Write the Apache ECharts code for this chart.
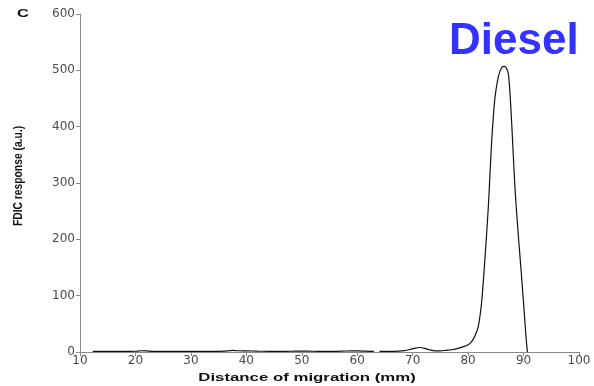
<!DOCTYPE html>
<html>
<head>
<meta charset="utf-8">
<script src="https://cdn.jsdelivr.net/npm/echarts@6/dist/echarts.min.js"></script>
<style>
  html, body { margin: 0; padding: 0; background: #fff; }
  #chart { width: 594px; height: 386px; }
</style>
</head>
<body>
<div id="chart"></div>
<script>
// FDIC trace of diesel: distance of migration (mm) vs detector response (a.u.)
var distance = [
  12.3, 14, 16, 18, 20, 21, 22, 23, 25, 28, 31, 34, 36, 37.5, 38.5, 40, 42, 44, 46, 48,
  50, 52, 54, 56, 58, 60, 61.5, 63.0, 63.5, 64.0, 66, 67.5, 68.5, 69.5, 70.5, 71.3, 72.2,
  73, 74, 75, 76, 77, 78, 79, 80, 80.6, 81.2, 81.85, 82.45, 83.05, 83.65, 83.95, 84.26,
  84.55, 84.86, 85.46, 86.06, 86.6, 87.0, 87.26, 87.56, 87.86, 88.16, 88.46, 88.77,
  89.07, 89.37, 89.67, 89.96, 90.26, 90.5, 90.7
];
var response = [
  1.2, 1, 1.2, 1, 1.3, 2.2, 2, 1.2, 1, 1, 1.2, 1, 1.4, 3, 2.2, 2, 1.5, 1.2, 1, 1.3,
  1.5, 1.3, 1.2, 1.2, 1.8, 2, 1.5, 1, null, 1, 1, 1.5, 2.5, 4.5, 7, 8, 6.5,
  4, 2, 2, 3, 4, 6, 9, 13, 18, 28, 46, 90, 168, 258, 317, 376,
  418, 453, 489, 505, 507, 502, 494, 459, 406, 347, 290, 245,
  205, 168, 130, 92, 51, 20, 0
];
var xTicks = { min: 10, max: 100, step: 10 };
var yTicks = { min: 0, max: 600, step: 100 };
var xTitle = 'Distance of migration (mm)';
var yTitle = 'FDIC response (a.u.)';
var panelLetter = 'C';
var sampleName = 'Diesel';

var points = distance.map(function (d, i) {
  return [d, response[i] === null ? null : response[i]];
});

var axisGrey = '#8a8a8a';
var labelStyle = { color: '#4a4a4a', fontFamily: 'DejaVu Sans', fontSize: 12 };

var chart = echarts.init(document.getElementById('chart'), null, { renderer: 'canvas' });
chart.setOption({
  animation: false,
  backgroundColor: '#ffffff',
  grid: { left: 80, right: 15, top: 14, bottom: 34, containLabel: false },
  xAxis: {
    type: 'value',
    min: xTicks.min, max: xTicks.max, interval: xTicks.step,
    axisLine: { show: true, lineStyle: { color: axisGrey, width: 1 } },
    axisTick: { show: true, length: 4, lineStyle: { color: axisGrey } },
    axisLabel: Object.assign({ margin: 3 }, labelStyle),
    splitLine: { show: false }
  },
  yAxis: {
    type: 'value',
    min: yTicks.min, max: yTicks.max, interval: yTicks.step,
    axisLine: { show: true, lineStyle: { color: axisGrey, width: 1 } },
    axisTick: { show: true, length: 4, lineStyle: { color: axisGrey } },
    axisLabel: Object.assign({ margin: 5 }, labelStyle),
    splitLine: { show: false }
  },
  series: [{
    type: 'line',
    data: points,
    showSymbol: false,
    smooth: 0.25,
    connectNulls: false,
    lineStyle: { color: '#111111', width: 1.2 }
  }],
  graphic: [
    {
      type: 'text', x: 307, y: 378, scaleX: 1.6,
      style: {
        text: xTitle, font: 'bold 10.5px "Liberation Sans", Arial, sans-serif',
        fill: '#111', textAlign: 'center', textVerticalAlign: 'middle'
      }
    },
    {
      type: 'text', x: 18, y: 176, rotation: Math.PI / 2, scaleY: 1.3,
      style: {
        text: yTitle, font: 'bold 10.3px "Liberation Sans", Arial, sans-serif',
        fill: '#111', textAlign: 'center', textVerticalAlign: 'middle'
      }
    },
    {
      type: 'text', x: 23, y: 14, scaleX: 1.5,
      style: {
        text: panelLetter, font: 'bold 11px "Liberation Sans", Arial, sans-serif',
        fill: '#111', textAlign: 'center', textVerticalAlign: 'middle'
      }
    },
    {
      type: 'text', x: 449, y: 42,
      style: {
        text: sampleName, font: 'bold 44px "Liberation Sans", Arial, sans-serif',
        fill: '#3333ff', textAlign: 'left', textVerticalAlign: 'middle'
      }
    }
  ]
});
</script>
</body>
</html>
